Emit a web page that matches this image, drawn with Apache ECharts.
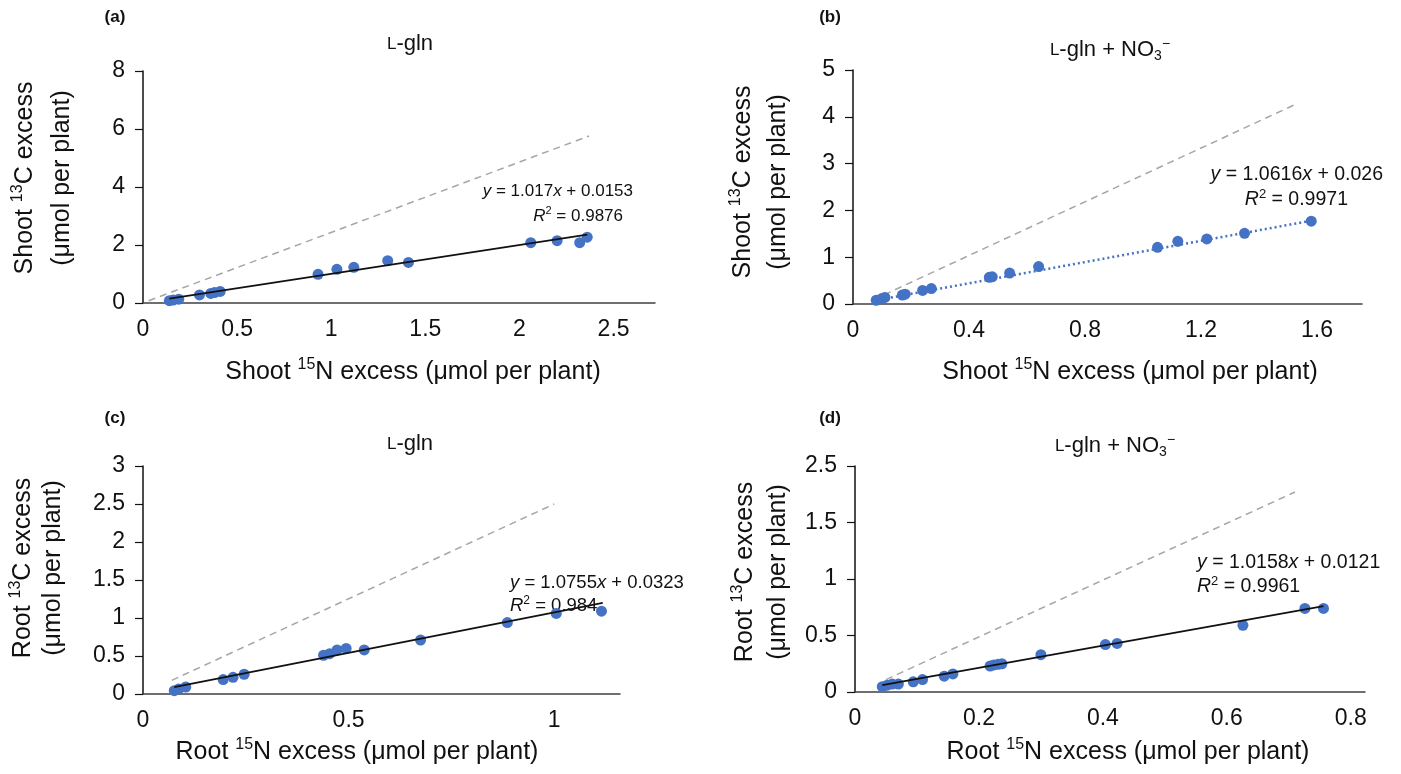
<!DOCTYPE html>
<html>
<head>
<meta charset="utf-8">
<style>
  html, body { margin: 0; padding: 0; background: #fff; }
  #chart { width: 1401px; height: 774px; }
</style>
<script src="https://cdn.jsdelivr.net/npm/echarts@6/dist/echarts.min.js"></script>
</head>
<body>
<div id="chart"></div>
<script>
// panel (a) shoot, L-gln
var aShootN = [0.14, 0.16, 0.19, 0.30, 0.36, 0.38, 0.41, 0.93, 1.03, 1.12, 1.30, 1.41, 2.06, 2.20, 2.32, 2.36];
var aShootC = [0.08, 0.10, 0.13, 0.28, 0.33, 0.36, 0.40, 0.99, 1.16, 1.23, 1.46, 1.40, 2.08, 2.15, 2.08, 2.27];
var aTrend = [[0.14, 0.15], [2.36, 2.36]];
var aRef = [[0.03, 0.08], [2.37, 5.76]];

// panel (b) shoot, L-gln + NO3-
var bShootN = [0.08, 0.10, 0.11, 0.17, 0.18, 0.24, 0.27, 0.47, 0.48, 0.54, 0.64, 1.05, 1.12, 1.22, 1.35, 1.58];
var bShootC = [0.08, 0.12, 0.14, 0.19, 0.21, 0.29, 0.33, 0.57, 0.58, 0.66, 0.80, 1.21, 1.34, 1.39, 1.51, 1.77];
var bTrend = [[0.08, 0.08], [1.58, 1.78]];
var bRef = [[0.07, 0.09], [1.52, 4.25]];

// panel (c) root, L-gln
var cRootN = [0.076, 0.087, 0.104, 0.195, 0.219, 0.246, 0.439, 0.454, 0.472, 0.494, 0.538, 0.675, 0.886, 1.005, 1.115];
var cRootC = [0.044, 0.066, 0.092, 0.19, 0.22, 0.26, 0.51, 0.53, 0.58, 0.60, 0.58, 0.71, 0.94, 1.06, 1.09];
var cTrend = [[0.076, 0.09], [1.118, 1.2]];
var cRef = [[0.07, 0.18], [1.0, 2.5]];

// panel (d) root, L-gln + NO3-
var dRootN = [0.044, 0.052, 0.06, 0.07, 0.094, 0.109, 0.144, 0.158, 0.218, 0.224, 0.231, 0.237, 0.30, 0.404, 0.423, 0.626, 0.726, 0.756];
var dRootC = [0.047, 0.06, 0.07, 0.07, 0.09, 0.11, 0.14, 0.16, 0.23, 0.24, 0.245, 0.25, 0.33, 0.42, 0.43, 0.59, 0.74, 0.74];
var dTrend = [[0.044, 0.06], [0.756, 0.76]];
var dRef = [[0.05, 0.11], [0.71, 1.77]];

// tick labels as printed (panel d skips "2")
var dYTicks = ['0', '0.5', '1', '1.5', '2.5'];

var FONT = 'Liberation Sans, Arial, sans-serif';
var blue = '#4472C4';
var grey = '#a6a6a6';

function pairs(xs, ys) {
  return xs.map(function(x, i) { return [x, ys[i]]; });
}

function xAx(idx, max, step) {
  return {
    type: 'value', gridIndex: idx, min: 0, max: max, interval: step,
    axisLine: { lineStyle: { color: '#404040', width: 1.5 } },
    axisTick: { show: false },
    splitLine: { show: false },
    axisLabel: { color: '#111', fontSize: 23, fontFamily: FONT, margin: 15, showMaxLabel: false }
  };
}

function yAx(idx, max, step, fmt) {
  return {
    type: 'value', gridIndex: idx, min: 0, max: max, interval: step,
    axisLine: { show: true, lineStyle: { color: '#111', width: 1.5 } },
    axisTick: { show: true, length: 8, lineStyle: { color: '#111', width: 1.2 } },
    splitLine: { show: false },
    axisLabel: { color: '#111', fontSize: 23, fontFamily: FONT, margin: 18, formatter: fmt }
  };
}

function panelSeries(idx, pts, trend, ref, dotted) {
  return [
    {
      type: 'line', xAxisIndex: idx, yAxisIndex: idx, data: ref, symbol: 'none', z: 1,
      lineStyle: { color: grey, width: 1.5, type: [7, 5] }, silent: true
    },
    {
      type: 'scatter', xAxisIndex: idx, yAxisIndex: idx, data: pts, symbolSize: 11, z: 2,
      itemStyle: { color: blue, opacity: 1 }
    },
    {
      type: 'line', xAxisIndex: idx, yAxisIndex: idx, data: trend, symbol: 'none', z: 3,
      lineStyle: dotted ? { color: blue, width: 2.5, type: [2, 3] } : { color: '#111', width: 1.8 },
      silent: true
    }
  ];
}

function txt(x, y, text, opts) {
  opts = opts || {};
  var size = opts.size || 25;
  var small = Math.round(size * 0.65);
  return {
    type: 'text', x: x, y: y, rotation: opts.rotation || 0,
    style: {
      text: text, fill: '#111', font: (opts.weight || 'normal') + ' ' + size + 'px ' + FONT,
      align: opts.align || 'center', verticalAlign: 'middle',
      rich: {
        n: { fontSize: size, fontFamily: FONT, fill: '#111', lineHeight: size * 1.2 },
        i: { fontStyle: 'italic', fontSize: size, fontFamily: FONT, fill: '#111', lineHeight: size * 1.2 },
        sup: { fontSize: small, fontFamily: FONT, fill: '#111', verticalAlign: 'top', lineHeight: size * 1.2, padding: [0, 0, size * 0.35, 0] },
        sub: { fontSize: small, fontFamily: FONT, fill: '#111', verticalAlign: 'bottom', lineHeight: size * 1.2, padding: [size * 0.3, 0, 0, 0] },
        sc: { fontSize: Math.round(size * 0.75), fontFamily: FONT, fill: '#111', lineHeight: size * 1.2 }
      }
    }
  };
}

var chart = echarts.init(document.getElementById('chart'), null, { renderer: 'canvas' });

chart.setOption({
  animation: false,
  backgroundColor: '#fff',
  grid: [
    { left: 143, top: 71, width: 512, height: 232 },
    { left: 853, top: 70, width: 509, height: 234 },
    { left: 143, top: 466, width: 477, height: 228 },
    { left: 855, top: 466, width: 510, height: 226 }
  ],
  xAxis: [
    xAx(0, 2.72, 0.5),
    xAx(1, 1.755, 0.4),
    xAx(2, 1.16, 0.5),
    xAx(3, 0.823, 0.2)
  ],
  yAxis: [
    yAx(0, 8, 2),
    yAx(1, 5, 1),
    yAx(2, 3, 0.5),
    yAx(3, 2, 0.5, function(v, i) { return dYTicks[i]; })
  ],
  series: [].concat(
    panelSeries(0, pairs(aShootN, aShootC), aTrend, aRef, false),
    panelSeries(1, pairs(bShootN, bShootC), bTrend, bRef, true),
    panelSeries(2, pairs(cRootN, cRootC), cTrend, cRef, false),
    panelSeries(3, pairs(dRootN, dRootC), dTrend, dRef, false)
  ),
  graphic: [
    // panel letters
    txt(115, 17, '(a)', { weight: 'bold', size: 17 }),
    txt(830, 17, '(b)', { weight: 'bold', size: 17 }),
    txt(115, 418, '(c)', { weight: 'bold', size: 17 }),
    txt(830, 418, '(d)', { weight: 'bold', size: 17 }),
    // panel titles
    txt(410, 44, '{sc|L}{n|-gln}', { size: 22 }),
    txt(1110, 50, '{sc|L}{n|-gln + NO}{sub|3}{sup|\u2212}', { size: 22 }),
    txt(410, 444, '{sc|L}{n|-gln}', { size: 22 }),
    txt(1115, 446, '{sc|L}{n|-gln + NO}{sub|3}{sup|\u2212}', { size: 22 }),
    // y axis titles
    txt(25, 178, '{n|Shoot }{sup|13}{n|C excess}', { rotation: Math.PI / 2 }),
    txt(62, 178, '{n|(\u03BCmol per plant)}', { rotation: Math.PI / 2 }),
    txt(743, 182, '{n|Shoot }{sup|13}{n|C excess}', { rotation: Math.PI / 2 }),
    txt(778, 182, '{n|(\u03BCmol per plant)}', { rotation: Math.PI / 2 }),
    txt(23, 568, '{n|Root }{sup|13}{n|C excess}', { rotation: Math.PI / 2 }),
    txt(53, 568, '{n|(\u03BCmol per plant)}', { rotation: Math.PI / 2 }),
    txt(745, 572, '{n|Root }{sup|13}{n|C excess}', { rotation: Math.PI / 2 }),
    txt(778, 572, '{n|(\u03BCmol per plant)}', { rotation: Math.PI / 2 }),
    // x axis titles
    txt(413, 372, '{n|Shoot }{sup|15}{n|N excess (\u03BCmol per plant)}'),
    txt(1130, 372, '{n|Shoot }{sup|15}{n|N excess (\u03BCmol per plant)}'),
    txt(357, 752, '{n|Root }{sup|15}{n|N excess (\u03BCmol per plant)}'),
    txt(1128, 752, '{n|Root }{sup|15}{n|N excess (\u03BCmol per plant)}'),
    // regression equations
    txt(633, 191, '{i|y}{n| = 1.017}{i|x}{n| + 0.0153}', { size: 17, align: 'right' }),
    txt(623, 216, '{i|R}{sup|2}{n| = 0.9876}', { size: 17, align: 'right' }),
    txt(1383, 175, '{i|y}{n| = 1.0616}{i|x}{n| + 0.026}', { size: 19.5, align: 'right' }),
    txt(1348, 200, '{i|R}{sup|2}{n| = 0.9971}', { size: 19.5, align: 'right' }),
    txt(510, 583, '{i|y}{n| = 1.0755}{i|x}{n| + 0.0323}', { size: 18.5, align: 'left' }),
    txt(510, 606, '{i|R}{sup|2}{n| = 0.984}', { size: 18.5, align: 'left' }),
    txt(1197, 563, '{i|y}{n| = 1.0158}{i|x}{n| + 0.0121}', { size: 19.5, align: 'left' }),
    txt(1197, 587, '{i|R}{sup|2}{n| = 0.9961}', { size: 19.5, align: 'left' })
  ]
});

window.addEventListener('resize', function() { chart.resize(); });
</script>
</body>
</html>
